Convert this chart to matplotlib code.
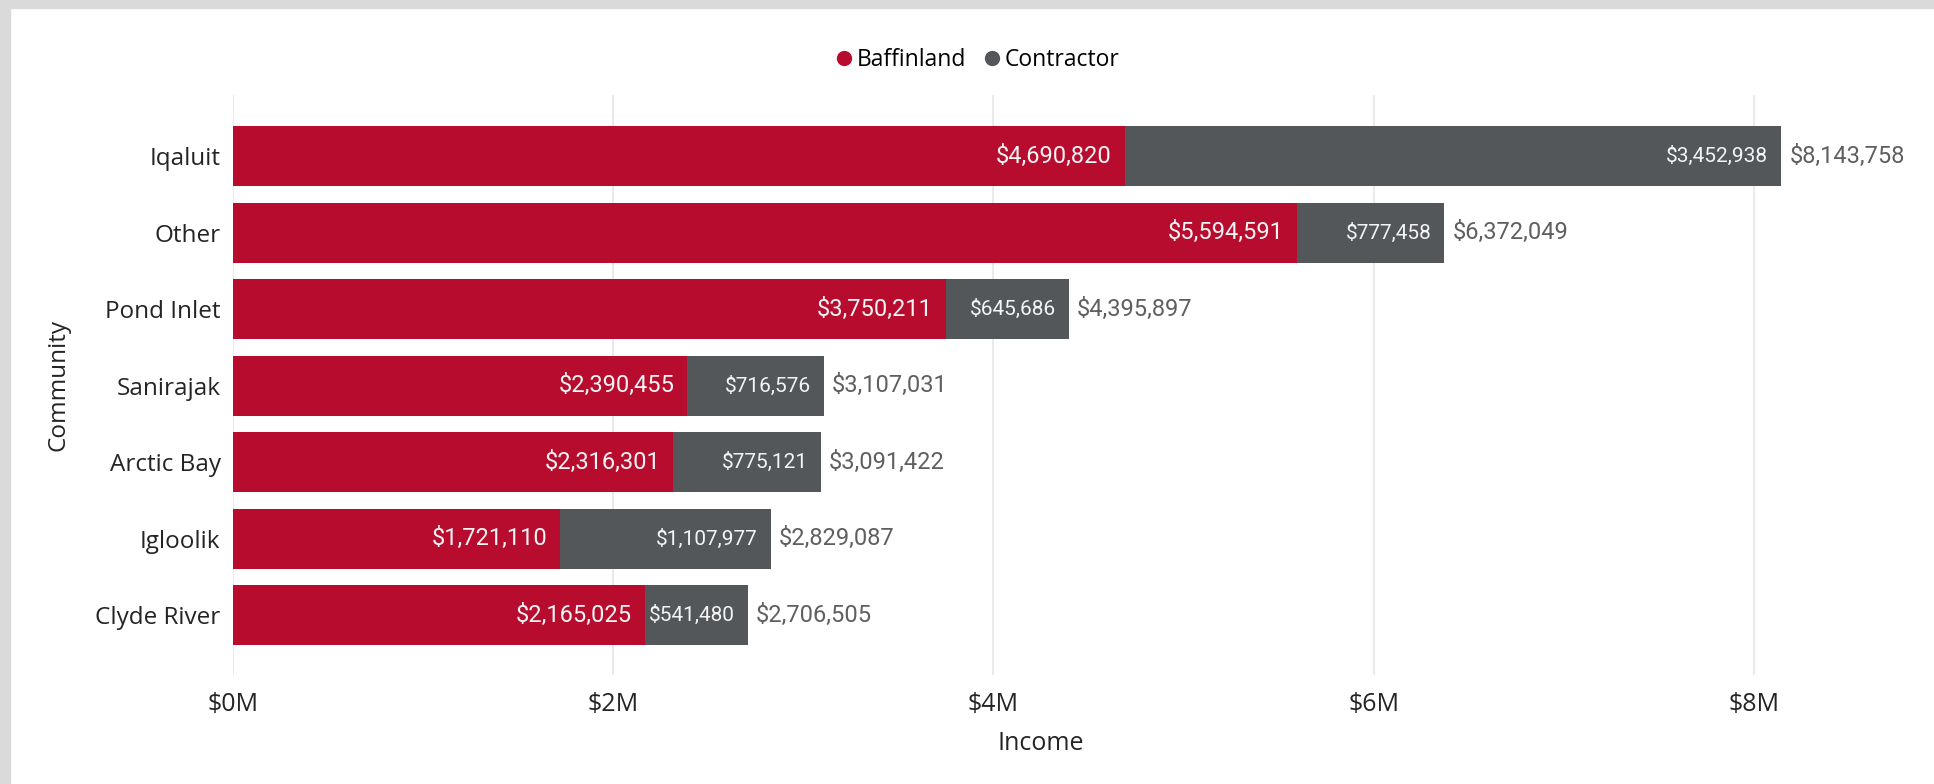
import numpy as np
import matplotlib.pyplot as plt
from matplotlib.lines import Line2D
from matplotlib.patches import Rectangle
from matplotlib.ticker import FuncFormatter

# data
communities = ["Iqaluit", "Other", "Pond Inlet", "Sanirajak", "Arctic Bay", "Igloolik", "Clyde River"]
baffinland = [4690820, 5594591, 3750211, 2390455, 2316301, 1721110, 2165025]
contractor = [3452938, 777458, 645686, 716576, 775121, 1107977, 541480]

red = "#B80C2F"
grey = "#54575A"
font_main = "Open Sans"
font_lbl = "Roboto"

W, H = 1934, 784
fig = plt.figure(figsize=(W / 100, H / 100), dpi=100)
fig.patch.set_facecolor("white")

# grey screenshot frame on left / top
fig.patches.append(Rectangle((0, 0), 10 / W, 1, transform=fig.transFigure, color="#DADADA", zorder=0))
fig.patches.append(Rectangle((0, 1 - 8 / H), 1, 8 / H, transform=fig.transFigure, color="#DADADA", zorder=0))

ax = fig.add_axes([233 / W, 1 - 675 / H, (1849 - 233) / W, (675 - 95) / H])

y = np.arange(len(communities))
b = np.array(baffinland)
c = np.array(contractor)
tot = b + c

ax.barh(y, b, height=0.78, color=red, zorder=3)
ax.barh(y, c, left=b, height=0.78, color=grey, zorder=3)

ax.set_xlim(0, 8.5e6)
ax.set_ylim(6.78, -0.8)
ax.set_xticks([0, 2e6, 4e6, 6e6, 8e6])
ax.xaxis.set_major_formatter(FuncFormatter(lambda v, p: f"${v/1e6:.0f}M"))
ax.set_yticks(y)
ax.set_yticklabels(communities)
ax.grid(axis="x", color="#E6E6E6", linewidth=1.2, zorder=0)
for s in ax.spines.values():
    s.set_visible(False)
ax.tick_params(length=0, labelcolor="#252423")
ax.tick_params(axis="y", pad=9, labelsize=17.5)
ax.tick_params(axis="x", pad=12, labelsize=18)
for t in ax.get_xticklabels() + ax.get_yticklabels():
    t.set_fontfamily(font_main)

ax.set_xlabel("Income", fontsize=18, family=font_main, color="#252423", labelpad=10)
ax.set_ylabel("Community", fontsize=17.5, family=font_main, color="#252423", labelpad=18)

# data labels
for i in range(len(communities)):
    ax.annotate(f"${b[i]:,}", (b[i], y[i]), xytext=(-9.5, 0), textcoords="offset points",
                ha="right", va="center", color="#F4F4F4", fontsize=17, family=font_lbl, zorder=4)
    ax.annotate(f"${c[i]:,}", (tot[i], y[i]), xytext=(-9.5, 0), textcoords="offset points",
                ha="right", va="center", color="#F4F4F4", fontsize=15, family=font_lbl, zorder=4)
    ax.annotate(f"${tot[i]:,}", (tot[i], y[i]), xytext=(6, 0), textcoords="offset points",
                ha="left", va="center", color="#5F5F5F", fontsize=17, family=font_lbl, zorder=4)

handles = [Line2D([], [], marker="o", linestyle="", color=red, markersize=10),
           Line2D([], [], marker="o", linestyle="", color=grey, markersize=10)]
fig.legend(handles, ["Baffinland", "Contractor"], loc="center", bbox_to_anchor=(976 / W, 1 - 60 / H),
           ncol=2, frameon=False, handletextpad=0.05, columnspacing=0.6, handlelength=1.0,
           prop={"family": font_main, "size": 16.5})

plt.savefig("out.png", dpi=100)
